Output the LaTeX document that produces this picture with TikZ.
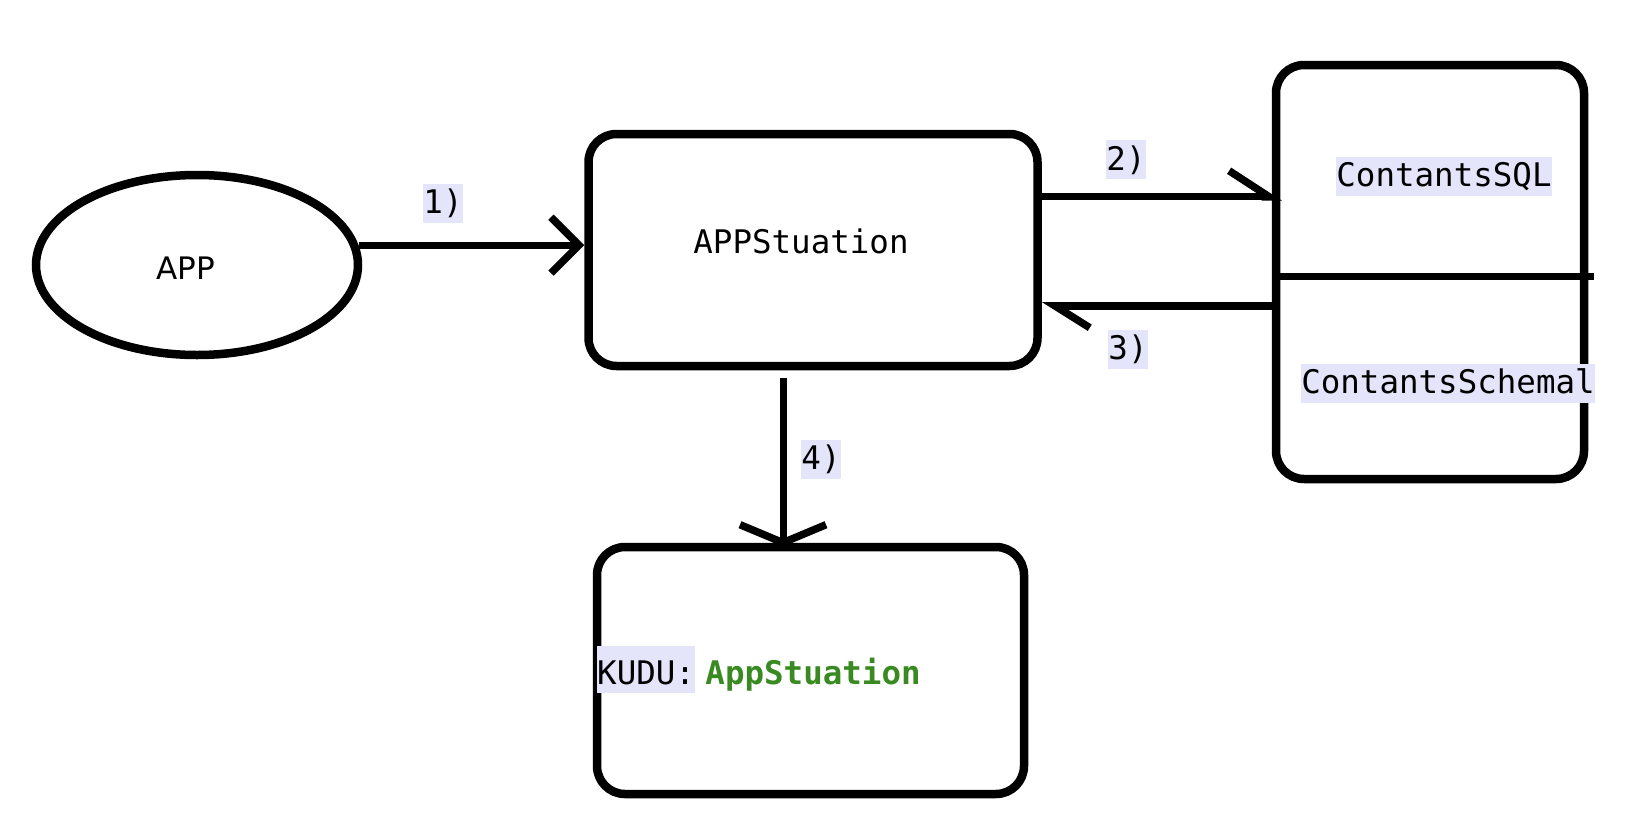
\documentclass[tikz,border=0pt]{standalone}
\usepackage{fontspec}
\newfontfamily\monof{DejaVu Sans Mono}
\newfontfamily\sansf{DejaVu Sans}
\usetikzlibrary{arrows.meta,shapes.geometric,calc}
\definecolor{lav}{HTML}{E4E4FA}
\definecolor{kgreen}{HTML}{3A8A22}
\begin{document}
\begin{tikzpicture}[x=1pt,y=-1pt,
  rbox/.style={draw, line width=8.5pt, rounded corners=28pt, inner sep=0pt},
  conn/.style={line width=7pt},
  lab/.style={fill=lav, inner sep=0pt, text height=30pt, text depth=9pt, anchor=base, font=\monof\fontsize{32.5}{39}\selectfont},
  mtext/.style={inner sep=0pt, font=\monof\fontsize{32.5}{39}\selectfont}]
\useasboundingbox[fill=white] (0,0) rectangle (1638,830);
% nodes
\node[ellipse, draw, line width=8.5pt, minimum width=322pt, minimum height=180pt, inner sep=0pt] (app) at (197,265) {};
\node[inner sep=0pt, font=\sansf\fontsize{31}{37}\selectfont] (apptxt) at (186,268) {APP};
\node[rbox, minimum width=449pt, minimum height=232pt] (stu) at (813,250) {};
\node[mtext] (stutxt) at (801,241) {APPStuation};
\node[rbox, minimum width=308pt, minimum height=414pt] (rb) at (1430,272) {};
\node[rbox, minimum width=427pt, minimum height=247pt] (kudu) at (810.5,670.5) {};
% texts
\node[lab] (sql) at (1444,186.5) {ContantsSQL};
\node[lab] (schema) at (1448,393.5) {ContantsSchemal};
\node[lab, anchor=base west, text height=38pt] (kl) at (597,684) {KUDU:};
\node[mtext, anchor=base west, text=kgreen, font=\monof\bfseries\fontsize{32.5}{39}\selectfont] (kapp) at ([xshift=10pt]kl.base east) {AppStuation};
\node[lab] (l1) at (443,213.5) {1)};
\node[lab] (l2) at (1126,170) {2)};
\node[lab] (l3) at (1128,359.5) {3)};
\node[lab] (l4) at (821,469.5) {4)};
% connectors
\draw[conn, -{Straight Barb[length=28pt, width=56pt, line width=7.5pt]}] (app.7.6) -- (app.7.6 -| stu.west);
\coordinate (a2) at ($(stu.north east)+(0,67)$);
\draw[conn, shorten >=-10pt, -{Straight Barb[harpoon, length=40pt, width=52pt, line width=7.5pt]}] (a2) -- (a2 -| rb.west);
\coordinate (a3) at ($(stu.north east)+(0,176)$);
\draw[line width=8pt, -{Straight Barb[harpoon, length=35pt, width=44pt, line width=7.5pt]}] (a3 -| rb.west) -- (a3);
\coordinate (a4) at ($(stu.south)+(-30,8)$);
\draw[conn, shorten >=-4pt, -{Straight Barb[length=18pt, width=86pt, line width=7.5pt]}] (a4) -- (a4 |- kudu.north);
\coordinate (dv) at ($(rb.west)+(0,4)$);
\draw[conn] (dv) -- ++(322,0) coordinate (dvend);
\end{tikzpicture}
\end{document}
